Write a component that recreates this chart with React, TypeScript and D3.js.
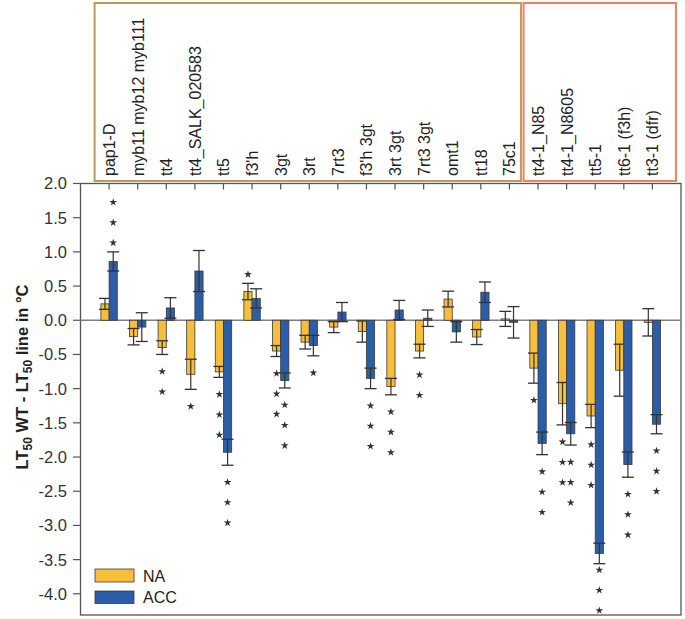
import React from "react";
import * as d3 from "d3";

const categories = ["pap1-D","myb11 myb12 myb111","tt4","tt4_SALK_020583","tt5","f3'h","3gt","3rt","7rt3","f3'h 3gt","3rt 3gt","7rt3 3gt","omt1","tt18","75c1","tt4-1_N85","tt4-1_N8605","tt5-1","tt6-1 (f3h)","tt3-1 (dfr)"];
const naValues = [0.24,-0.24,-0.40,-0.79,-0.755,0.42,-0.45,-0.32,-0.10,-0.165,-0.97,-0.45,0.31,-0.245,0.02,-0.70,-1.22,-1.40,-0.73,-0.03];
const naErr = [0.08,0.12,0.10,0.22,0.08,0.12,0.08,0.10,0.08,0.155,0.12,0.10,0.115,0.11,0.11,0.22,0.31,0.17,0.38,0.20];
const accValues = [0.86,-0.10,0.18,0.72,-1.93,0.32,-0.88,-0.37,0.12,-0.85,0.15,0.03,-0.17,0.41,-0.03,-1.80,-1.66,-3.41,-2.11,-1.52];
const accErr = [0.14,0.21,0.15,0.30,0.19,0.14,0.11,0.15,0.14,0.15,0.14,0.12,0.15,0.15,0.23,0.165,0.165,0.15,0.185,0.14];
const naStars = [0,0,2,1,3,1,3,0,0,0,3,2,0,0,0,1,3,3,0,0];
const accStars = [3,0,0,0,3,0,3,1,0,3,0,0,0,0,0,3,3,3,3,3];
const yTicks = [2.0,1.5,1.0,0.5,0.0,-0.5,-1.0,-1.5,-2.0,-2.5,-3.0,-3.5,-4.0];
const groupA = [0, 14];
const groupB = [15, 19];

const NA_COLOR = "#F6BE3A";
const ACC_COLOR = "#2C5DA8";
const FONT = "Liberation Sans, Arial, sans-serif";

export default function App() {
  const W = 685, H = 619;
  const left = 80.5, right = 681, top = 183.5, bottom = 615;
  const x = d3.scaleLinear().domain([0, categories.length + 1]).range([left, right]);
  const y = d3.scaleLinear().domain([-4.31, 2]).range([bottom, top]);
  const bw = 8.2;
  const capW = 12;
  const starPath = d3.symbol(d3.symbolStar, 19)() as string;

  const series = [
    { vals: naValues, err: naErr, stars: naStars, color: NA_COLOR, off: -bw / 2 },
    { vals: accValues, err: accErr, stars: accStars, color: ACC_COLOR, off: bw / 2 },
  ];

  const marks: any[] = [];
  series.forEach((s, si) => {
    s.vals.forEach((v, i) => {
      const cx = x(i + 1) + s.off;
      const y0 = y(0), yv = y(v);
      const yHi = y(v + s.err[i]), yLo = y(v - s.err[i]);
      marks.push(
        <g key={`b${si}-${i}`}>
          <rect x={cx - bw / 2} y={Math.min(y0, yv)} width={bw} height={Math.abs(yv - y0)}
            fill={s.color} stroke="#3a3a3a" strokeWidth={0.8} />
          <line x1={cx} x2={cx} y1={yHi} y2={yLo} stroke="#333" strokeWidth={1.2} />
          <line x1={cx - capW / 2} x2={cx + capW / 2} y1={yHi} y2={yHi} stroke="#333" strokeWidth={1.3} />
          <line x1={cx - capW / 2} x2={cx + capW / 2} y1={yLo} y2={yLo} stroke="#333" strokeWidth={1.3} />
        </g>
      );
      const n = s.stars[i];
      if (n > 0) {
        const gap = 20.3;
        const pts: number[] = [];
        if (v >= 0) {
          const first = yHi - 9;
          for (let k = 0; k < n; k++) pts.push(first - k * gap);
        } else {
          const first = Math.min(yLo + 17, bottom - 4.5 - gap * (n - 1));
          for (let k = 0; k < n; k++) pts.push(first + k * gap);
        }
        pts.forEach((py, k) => {
          marks.push(
            <path key={`s${si}-${i}-${k}`} d={starPath} transform={`translate(${cx},${py})`} fill="#333" />
          );
        });
      }
    });
  });

  const boxA = { x1: x(groupA[0] + 1) - 14.5, x2: x(groupA[1] + 1) + 11.5 };
  const boxB = { x1: x(groupB[0] + 1) - 14.5, x2: x(groupB[1] + 1) + 23.5 };

  return (
    <svg width={W} height={H} style={{ position: "absolute", left: 0, top: 0, background: "#fff" }}>
      <rect x={0} y={0} width={W} height={H} fill="#fff" />
      <rect x={boxA.x1} y={3} width={boxA.x2 - boxA.x1} height={178} fill="none" stroke="#BE9B5C" strokeWidth={2} />
      <rect x={boxB.x1} y={3} width={boxB.x2 - boxB.x1} height={178} fill="none" stroke="#EC8458" strokeWidth={2} />
      {categories.map((c, i) => (
        <text key={`c${i}`} transform={`translate(${x(i + 1) + 6},176) rotate(-90)`} fontSize={16}
          fontFamily={FONT} fill="#222" textAnchor="start">{c}</text>
      ))}
      <rect x={left} y={top} width={right - left} height={bottom - top} fill="none" stroke="#555" strokeWidth={1.3} />
      {categories.map((c, i) => (
        <line key={`tt${i}`} x1={x(i + 1)} x2={x(i + 1)} y1={top} y2={top + 6} stroke="#555" strokeWidth={1.2} />
      ))}
      {yTicks.map((t) => (
        <g key={`y${t}`}>
          <line x1={left - 7.5} x2={left} y1={y(t)} y2={y(t)} stroke="#555" strokeWidth={1.2} />
          <text x={67} y={y(t)} dy="0.36em" textAnchor="end" fontSize={16.5} fontFamily={FONT} fill="#333">
            {t.toFixed(1)}
          </text>
        </g>
      ))}
      <line x1={left} x2={right} y1={y(0)} y2={y(0)} stroke="#808080" strokeWidth={1.5} />
      {marks}
      <text transform={`translate(28,377) rotate(-90)`} textAnchor="middle" fontSize={16.5} fontWeight="bold"
        fontFamily={FONT} fill="#222">
        LT<tspan fontSize={12} dy={4}>50</tspan><tspan dy={-4}> WT - LT</tspan><tspan fontSize={12} dy={4}>50</tspan><tspan dy={-4}> line in °C</tspan>
      </text>
      <rect x={95} y={569} width={39} height={13} fill={NA_COLOR} stroke="#3a3a3a" strokeWidth={0.8} />
      <text x={143} y={581.5} fontSize={16} fontFamily={FONT} fill="#222">NA</text>
      <rect x={95} y={591} width={39} height={12.5} fill={ACC_COLOR} stroke="#3a3a3a" strokeWidth={0.8} />
      <text x={143} y={603} fontSize={16} fontFamily={FONT} fill="#222">ACC</text>
    </svg>
  );
}
